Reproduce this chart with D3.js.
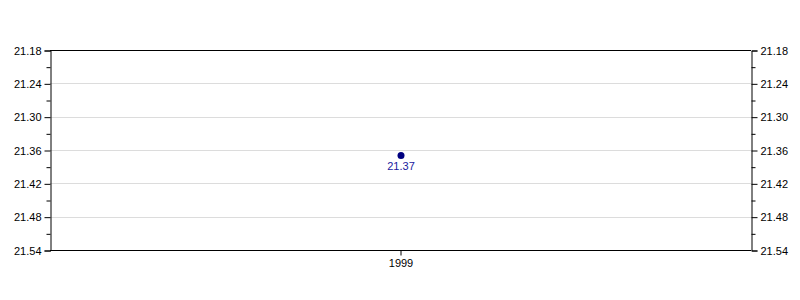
<!DOCTYPE html>
<html>
<head>
<meta charset="utf-8">
<script src="https://cdn.jsdelivr.net/npm/d3@7"></script>
<style>
  body { margin: 0; background: #fff; }
  text { font-family: "Liberation Sans", Arial, sans-serif; }
</style>
</head>
<body>
<div id="chart"></div>
<script>
var years = ["1999"];
var values = [21.37];
var yTicks = [21.18, 21.24, 21.30, 21.36, 21.42, 21.48, 21.54];
var yMinorTicks = [21.21, 21.27, 21.33, 21.39, 21.45, 21.51];

var W = 800, H = 300;
var margin = { top: 50, right: 49, bottom: 50, left: 50 },
    width = W - margin.left - margin.right,
    height = H - margin.top - margin.bottom;

var svg = d3.select("#chart").append("svg")
    .attr("width", W)
    .attr("height", H)
    .append("g")
    .attr("transform", "translate(" + margin.left + "," + margin.top + ")");

var x = d3.scalePoint().domain(years).range([0, width]).padding(0.5);
var y = d3.scaleLinear().domain([21.18, 21.54]).range([0, height]);

// gridlines
svg.append("g").selectAll("line")
    .data(yTicks.slice(1, -1))
    .enter().append("line")
    .attr("x1", 0).attr("x2", width)
    .attr("y1", function(d) { return Math.round(y(d)) + 0.5; })
    .attr("y2", function(d) { return Math.round(y(d)) + 0.5; })
    .attr("stroke", "#dcdcdc");

// frame top/bottom
svg.append("line").attr("x1", 0).attr("x2", width).attr("y1", 0.5).attr("y2", 0.5).attr("stroke", "#000");
svg.append("line").attr("x1", 0).attr("x2", width).attr("y1", height + 0.5).attr("y2", height + 0.5).attr("stroke", "#000");

// left axis
var left = svg.append("g").attr("transform", "translate(0.5,0.5)")
    .call(d3.axisLeft(y).tickValues(yTicks).tickFormat(d3.format(".2f")).tickSize(6).tickPadding(3));
var leftMinor = svg.append("g").attr("transform", "translate(0.5,0.5)")
    .call(d3.axisLeft(y).tickValues(yMinorTicks).tickFormat("").tickSize(4));
leftMinor.select(".domain").remove();

// right axis
var right = svg.append("g").attr("transform", "translate(" + (width + 0.5) + ",0.5)")
    .call(d3.axisRight(y).tickValues(yTicks).tickFormat(d3.format(".2f")).tickSize(6).tickPadding(3));
var rightMinor = svg.append("g").attr("transform", "translate(" + (width + 0.5) + ",0.5)")
    .call(d3.axisRight(y).tickValues(yMinorTicks).tickFormat("").tickSize(4));
rightMinor.select(".domain").remove();

// bottom axis
var bottom = svg.append("g").attr("transform", "translate(0," + (height + 0.5) + ")")
    .call(d3.axisBottom(x).tickSize(5).tickPadding(4));
bottom.select(".domain").remove();

svg.selectAll(".tick text").style("font-size", "11px").attr("fill", "#000")
    .style("font-family", "'Liberation Sans', Arial, sans-serif");
svg.selectAll(".domain").attr("stroke", "#000");

// point
svg.selectAll(".point")
    .data(values)
    .enter().append("circle")
    .attr("class", "point")
    .attr("cx", function(d, i) { return x(years[i]) + 0.5; })
    .attr("cy", function(d) { return y(d); })
    .attr("r", 3.5)
    .attr("fill", "#000080");

svg.selectAll(".plabel")
    .data(values)
    .enter().append("text")
    .attr("class", "plabel")
    .attr("x", function(d, i) { return x(years[i]) + 0.5; })
    .attr("y", function(d) { return y(d) + 14; })
    .attr("text-anchor", "middle")
    .style("font-size", "11px")
    .attr("fill", "#1a1aa0")
    .text(function(d) { return d3.format(".2f")(d); });
</script>
</body>
</html>
